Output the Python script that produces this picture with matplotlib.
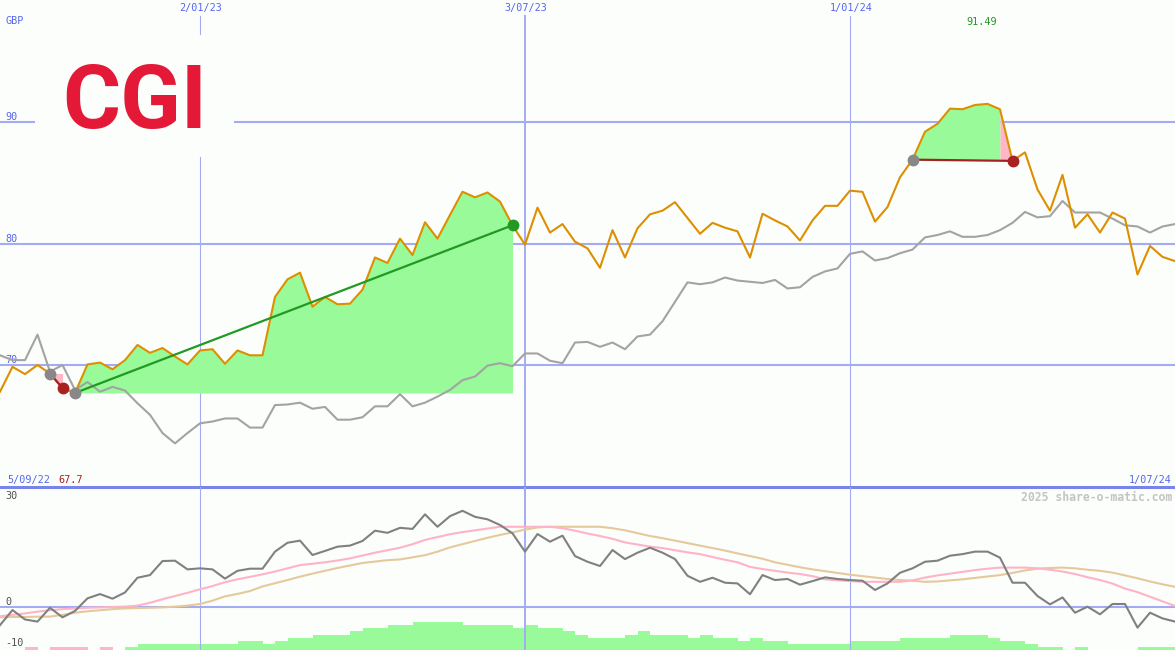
import matplotlib
matplotlib.use("Agg")
import matplotlib.pyplot as plt
from matplotlib.patches import Rectangle

# weekly closes, GBP (5/09/22 .. 1/07/24)
price = [67.8, 69.85, 69.25, 70.0, 69.3, 68.1, 67.7, 70.05, 70.2, 69.65,
         70.4, 71.65, 71.0, 71.4, 70.7, 70.05, 71.2, 71.3, 70.1, 71.2,
         70.8, 70.8, 75.6, 77.05, 77.6, 74.8, 75.6, 75.0, 75.05, 76.2,
         78.85, 78.4, 80.4, 79.05, 81.75, 80.4, 82.35, 84.26, 83.8, 84.2,
         83.45, 81.5, 79.9, 82.95, 80.9, 81.6, 80.15, 79.6, 78.0, 81.1,
         78.85, 81.25, 82.4, 82.7, 83.4, 82.1, 80.8, 81.7, 81.3, 81.0,
         78.85, 82.45, 81.9, 81.4, 80.25, 81.9, 83.1, 83.1, 84.35, 84.25,
         81.8, 83.0, 85.45, 86.9, 89.2, 89.85, 91.1, 91.05, 91.4, 91.49,
         91.05, 86.8, 87.5, 84.45, 82.7, 85.65, 81.3, 82.4, 80.9, 82.55,
         82.05, 77.45, 79.8, 78.9, 78.55]

# comparison index, rebased
index_line = [70.8, 70.4, 70.4, 72.5, 69.45, 70.0, 67.95, 68.6, 67.8, 68.2,
              67.9, 66.85, 65.9, 64.4, 63.55, 64.4, 65.2, 65.35, 65.6, 65.6,
              64.85, 64.85, 66.7, 66.75, 66.9, 66.4, 66.55, 65.5, 65.5, 65.7,
              66.6, 66.6, 67.6, 66.6, 66.9, 67.4, 67.95, 68.75, 69.05, 69.95,
              70.15, 69.9, 70.95, 70.95, 70.35, 70.15, 71.85, 71.9, 71.5, 71.85,
              71.3, 72.35, 72.5, 73.6, 75.2, 76.8, 76.65, 76.8, 77.2, 76.95,
              76.85, 76.75, 77.0, 76.3, 76.4, 77.25, 77.7, 77.95, 79.15, 79.35,
              78.6, 78.8, 79.2, 79.5, 80.5, 80.7, 81.0, 80.55, 80.55, 80.7,
              81.1, 81.7, 82.6, 82.15, 82.25, 83.5, 82.55, 82.55, 82.55, 82.05,
              81.5, 81.4, 80.9, 81.4, 81.6]

# lower panel
osc = [-5.1, -0.85, -3.5, -4.1, -0.2, -2.9, -1.1, 2.45, 3.65, 2.35,
       4.1, 8.25, 9.0, 12.95, 13.05, 10.6, 10.9, 10.6, 8.0, 10.2,
       10.8, 10.8, 15.6, 18.1, 18.7, 14.65, 15.8, 17.0, 17.3, 18.6,
       21.5, 20.9, 22.3, 22.0, 26.1, 22.6, 25.6, 27.1, 25.4, 24.7,
       23.1, 20.75, 15.6, 20.55, 18.4, 20.1, 14.35, 12.75, 11.55, 16.05,
       13.5, 15.3, 16.7, 15.3, 13.5, 8.8, 7.1, 8.25, 6.85, 6.65,
       3.6, 9.0, 7.6, 7.9, 6.3, 7.3, 8.35, 7.9, 7.6, 7.4,
       4.8, 6.65, 9.65, 10.9, 12.75, 13.05, 14.45, 14.9, 15.6, 15.6,
       13.9, 6.85, 6.85, 3.1, 0.75, 2.7, -1.6, 0.1, -2.05, 0.85,
       0.85, -5.8, -1.6, -3.2, -4.1]

osc_fast = [-2.6, -2.2, -1.8, -1.3, -0.9, -0.6, -0.4, -0.2, -0.1, 0.0,
            0.1, 0.4, 1.2, 2.2, 3.1, 4.0, 5.0, 5.9, 7.0, 7.8,
            8.5, 9.2, 10.0, 10.9, 11.8, 12.2, 12.6, 13.1, 13.7, 14.5,
            15.3, 16.0, 16.7, 17.7, 18.9, 19.7, 20.5, 21.1, 21.6, 22.1,
            22.6, 22.6, 22.6, 22.6, 22.6, 22.2, 21.5, 20.7, 20.0, 19.2,
            18.2, 17.6, 17.0, 16.6, 16.0, 15.4, 14.9, 14.1, 13.3, 12.6,
            11.3, 10.7, 10.2, 9.7, 9.3, 8.7, 7.8, 7.5, 7.3, 7.1,
            7.1, 7.1, 7.1, 7.5, 8.3, 8.9, 9.4, 9.9, 10.4, 10.8,
            11.1, 11.1, 11.1, 10.9, 10.5, 10.0, 9.3, 8.4, 7.6, 6.6,
            5.2, 4.2, 2.9, 1.6, 0.3]

osc_slow = [-2.9, -2.8, -2.8, -2.7, -2.7, -2.2, -1.6, -1.2, -0.9, -0.6,
            -0.4, -0.3, -0.2, -0.1, 0.1, 0.4, 0.85, 1.8, 3.0, 3.7,
            4.5, 5.8, 6.7, 7.6, 8.55, 9.4, 10.2, 11.0, 11.7, 12.4,
            12.8, 13.2, 13.4, 14.0, 14.6, 15.6, 16.8, 17.7, 18.6, 19.5,
            20.3, 21.0, 21.8, 22.4, 22.6, 22.6, 22.6, 22.6, 22.6, 22.2,
            21.6, 20.8, 20.0, 19.4, 18.7, 18.0, 17.3, 16.6, 15.9, 15.1,
            14.35, 13.6, 12.6, 11.9, 11.2, 10.6, 10.1, 9.6, 9.1, 8.7,
            8.3, 7.9, 7.6, 7.4, 7.1, 7.2, 7.5, 7.8, 8.2, 8.6,
            9.0, 9.6, 10.3, 10.8, 11.0, 11.1, 10.9, 10.5, 10.2, 9.7,
            8.9, 8.1, 7.2, 6.4, 5.7]

strength = [0, 0, -1, 0, -1, -1, -1, 0, -1, 0,
            1, 2, 2, 2, 2, 2, 2, 2, 2, 3,
            3, 2, 3, 4, 4, 5, 5, 5, 6, 7,
            7, 8, 8, 9, 9, 9, 9, 8, 8, 8,
            8, 7, 8, 7, 7, 6, 5, 4, 4, 4,
            5, 6, 5, 5, 5, 4, 5, 4, 4, 3,
            4, 3, 3, 2, 2, 2, 2, 2, 3, 3,
            3, 3, 4, 4, 4, 4, 5, 5, 5, 4,
            3, 3, 2, 1, 1, 0, 1, 0, 0, 0,
            0, 1, 1, 1, 0]

# (entry week, exit week)
trades = [(4, 5), (6, 41), (73, 81)]

date_pos = [16, 42, 68]
date_labels = ["2/01/23", "3/07/23", "1/01/24"]
levels = [70, 80, 90]
start_label, end_label = "5/09/22", "1/07/24"

bg = "#fcfefc"
grid_c = "#a3acf3"
blue_txt = "#5566ee"
green_fill = "#98fa98"
pink_fill = "#ffb6c6"
mono = "DejaVu Sans Mono"

x = list(range(len(price)))

fig = plt.figure(figsize=(11.75, 6.5), dpi=100, facecolor=bg)
ax = fig.add_axes([0, 163 / 650, 1, 487 / 650])
ax2 = fig.add_axes([0, 0, 1, 163 / 650])
for a in (ax, ax2):
    a.set_facecolor(bg)
    a.set_xticks([])
    a.set_yticks([])
    a.set_xlim(0, len(price) - 1)
    for s in a.spines.values():
        s.set_visible(False)

# ---- main panel
ax.set_ylim(59.96, 100.04)
ax.spines["bottom"].set_visible(True)
ax.spines["bottom"].set_color("#7884ea")
ax.spines["bottom"].set_linewidth(2.2)
for v in levels:
    ax.axhline(v, color=grid_c, lw=1.5, zorder=1)
    ax.annotate(str(v), xy=(0, v), xytext=(5, 2), textcoords="offset pixels",
                va="baseline", ha="left", color=blue_txt, fontsize=7.3, family=mono)
for p, lab in zip(date_pos, date_labels):
    ax.axvline(p, ymax=(487 - 16) / 487, color=grid_c, lw=1.4 if lab == "3/07/23" else 0.8, zorder=1)
    ax.annotate(lab, xy=(p, 1), xycoords=("data", "axes fraction"), xytext=(1, -3),
                textcoords="offset pixels", va="top", ha="center", color=blue_txt,
                fontsize=7.3, family=mono)

# logo
ax.add_patch(Rectangle((2.8, 87.12), 15.92, 10.04, facecolor=bg, edgecolor="none", zorder=2))
ax.text(10.75, 89.5, "CGI", color="#e31937", fontsize=64, fontweight="bold",
        family=["Roboto", "DejaVu Sans"], ha="center", va="baseline", zorder=3)

# trades: shade between price and entry level, one polygon per colour run
for a, b in trades:
    entry = price[a]
    cols = [green_fill if price[k + 1] >= entry else pink_fill for k in range(a, b)]
    s = a
    for k in range(a, b):
        if k == b - 1 or cols[k - a + 1] != cols[k - a]:
            ax.fill_between(x[s:k + 2], price[s:k + 2], entry, color=cols[k - a],
                            lw=0, zorder=2)
            s = k + 1

ax.plot(x, index_line, color="#a3a3a3", lw=1.5, zorder=3)
ax.plot(x, price, color="#dd8f00", lw=1.5, zorder=4)

for a, b in trades:
    win = price[b] > price[a]
    ax.plot([a, b], [price[a], price[b]], color="#229922" if win else "#a52222", lw=1.6, zorder=5)
    ax.plot(a, price[a], "o", color="#888888", ms=7.5, zorder=6)
    ax.plot(b, price[b], "o", color="#229922" if win else "#a82222", ms=7.5, zorder=6)

ax.annotate("GBP", xy=(0, 1), xycoords="axes fraction", xytext=(5, -16), textcoords="offset pixels",
            va="top", ha="left", color=blue_txt, fontsize=7.3, family=mono)
imax = price.index(max(price))
ax.annotate(f"{max(price):.2f}", xy=(imax, 1), xycoords=("data", "axes fraction"), xytext=(-6, -25),
            textcoords="offset pixels", va="baseline", ha="center", color="#229922", fontsize=7.3, family=mono)
ax.annotate(start_label, xy=(0, 0), xycoords="axes fraction", xytext=(7, 4), textcoords="offset pixels",
            va="baseline", ha="left", color=blue_txt, fontsize=7.3, family=mono)
ax.annotate(f"{min(price):.1f}", xy=(0, 0), xycoords="axes fraction", xytext=(58, 4), textcoords="offset pixels",
            va="baseline", ha="left", color="#a52222", fontsize=7.3, family=mono)
ax.annotate(end_label, xy=(1, 0), xycoords="axes fraction", xytext=(-3, 4), textcoords="offset pixels",
            va="baseline", ha="right", color=blue_txt, fontsize=7.3, family=mono)

# ---- lower panel
ax2.set_ylim(-12.1, 33.8)
ax2.axhline(0, color=grid_c, lw=1.5, zorder=1)
for p, lab in zip(date_pos, date_labels):
    ax2.axvline(p, color=grid_c, lw=1.4 if lab == "3/07/23" else 0.8, zorder=1)

axb = ax2.twinx()
axb.set_ylim(0, 52.6)
axb.set_yticks([])
for s in axb.spines.values():
    s.set_visible(False)
axb.bar(x, [abs(v) for v in strength], width=1.0, align="edge",
        color=[green_fill if v > 0 else pink_fill for v in strength], lw=0, zorder=1)
ax2.set_zorder(axb.get_zorder() + 1)
ax2.patch.set_visible(False)
axb.set_facecolor(bg)

ax2.plot(x, osc_slow, color="#e6c99a", lw=1.5, zorder=3)
ax2.plot(x, osc_fast, color="#ffb3c6", lw=1.5, zorder=3)
ax2.plot(x, osc, color="#808080", lw=1.5, zorder=4)

for v, dy in [(30, 1), (0, 2), (-10, -3)]:
    ax2.annotate(str(v), xy=(0, v), xytext=(5, dy), textcoords="offset pixels", va="baseline",
                 ha="left", color="#505050", fontsize=7.3, family=mono)
ax2.annotate("2025 share-o-matic.com", xy=(1, 1), xycoords="axes fraction", xytext=(-3, -4),
             textcoords="offset pixels", va="top", ha="right", color="#c4c4c4",
             fontsize=8.3, fontweight="bold", family=mono)

fig.savefig("out.png", dpi=100, facecolor=bg)
